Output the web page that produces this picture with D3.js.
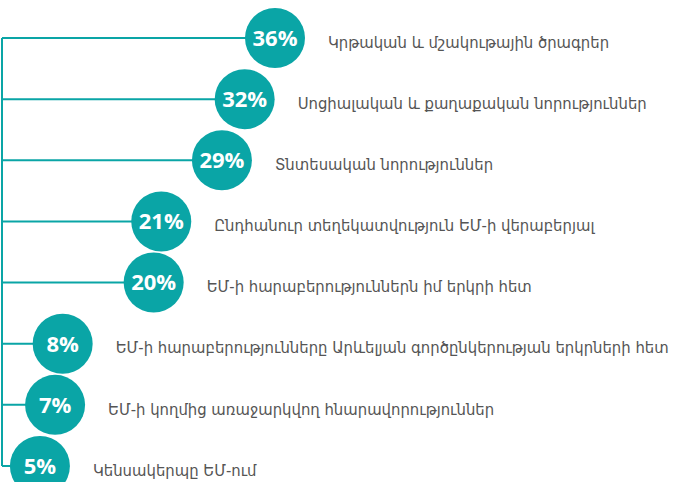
<!DOCTYPE html>
<meta charset="utf-8">
<style>
html, body { margin: 0; padding: 0; background: #fff; }
.label { fill: #555; font-family: "DejaVu Sans Condensed", "DejaVu Sans", sans-serif; font-size: 16.5px; }
.pct { fill: #fff; font-family: "Open Sans", "Noto Sans", sans-serif; font-weight: 700; font-size: 22px; }
.link { stroke: #0aa5a6; stroke-width: 2px; fill: none; }
</style>
<body><svg width="683" height="482"></svg></body>
<script src="https://d3js.org/d3.v7.min.js"></script>
<script>

var labels = [
  "Կրթական և մշակութային ծրագրեր",
  "Սոցիալական և քաղաքական նորություններ",
  "Տնտեսական նորություններ",
  "Ընդհանուր տեղեկատվություն ԵՄ-ի վերաբերյալ",
  "ԵՄ-ի հարաբերություններն իմ երկրի հետ",
  "ԵՄ-ի հարաբերությունները Արևելյան գործընկերության երկրների հետ",
  "ԵՄ-ի կողմից առաջարկվող հնարավորություններ",
  "Կենսակերպը ԵՄ-ում"
];
var values = [36, 32, 29, 21, 20, 8, 7, 5];

var svg = d3.select("svg"),
    width = +svg.attr("width"),
    height = +svg.attr("height");

var teal = "#0aa5a6";
var r = 30;

var x = d3.scaleLinear().domain([0, 36]).range([2, 275]);
var y = d3.scalePoint().domain(labels).range([38, 466]);

var data = labels.map(function(d, i) { return {label: d, value: values[i]}; });

// trunk
svg.append("line")
    .attr("class", "link")
    .attr("x1", x(0)).attr("x2", x(0))
    .attr("y1", y(labels[0])).attr("y2", y(labels[labels.length - 1]));

var g = svg.selectAll(".item")
  .data(data)
  .enter().append("g")
    .attr("class", "item");

g.append("line")
    .attr("class", "link")
    .attr("x1", x(0))
    .attr("x2", function(d) { return x(d.value); })
    .attr("y1", function(d) { return y(d.label); })
    .attr("y2", function(d) { return y(d.label); });

g.append("circle")
    .attr("cx", function(d) { return x(d.value); })
    .attr("cy", function(d) { return y(d.label); })
    .attr("r", r)
    .attr("fill", teal);

g.append("text")
    .attr("class", "pct")
    .attr("x", function(d) { return x(d.value); })
    .attr("y", function(d) { return y(d.label); })
    .attr("text-anchor", "middle")
    .attr("dy", "0.36em")
    .text(function(d) { return d.value + "%"; });

g.append("text")
    .attr("class", "label")
    .attr("x", function(d) { return x(d.value) + 53; })
    .attr("y", function(d) { return y(d.label) + 4; })
    .attr("dy", "0.35em")
    .text(function(d) { return d.label; });

</script>
